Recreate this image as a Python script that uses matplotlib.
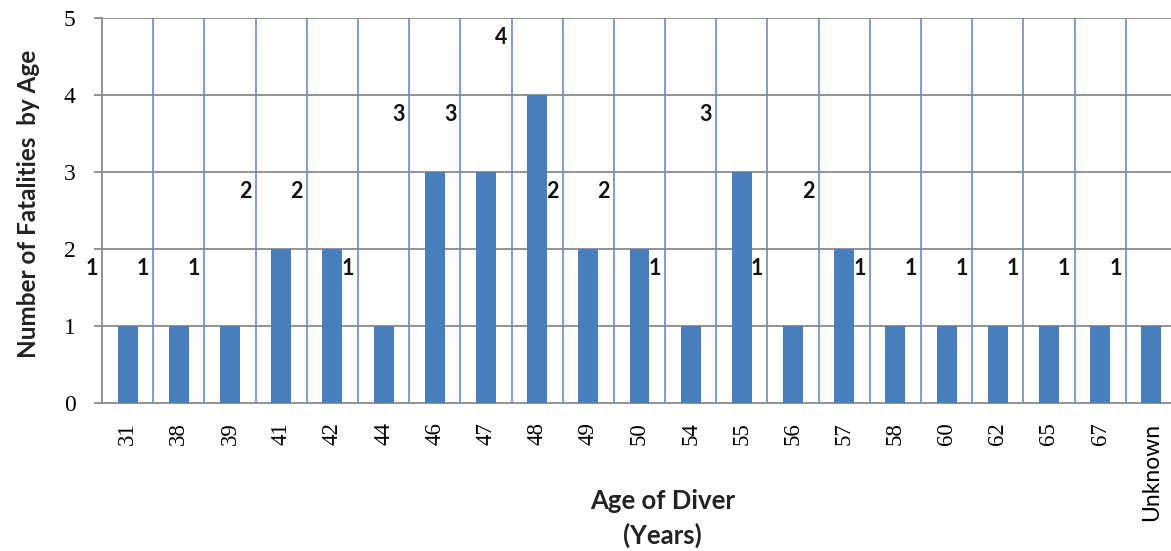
import matplotlib
matplotlib.use("Agg")
import matplotlib.pyplot as plt
import numpy as np

# fatalities per diver age
ages = ["31", "38", "39", "41", "42", "44", "46", "47", "48", "49", "50",
        "54", "55", "56", "57", "58", "60", "62", "65", "67", "Unknown"]
deaths = [1, 1, 1, 2, 2, 1, 3, 3, 4, 2, 2, 1, 3, 1, 2, 1, 1, 1, 1, 1, 1]

bar_col = "#4a7ebb"
vgrid_col = "#6c8cc0"
hgrid_col = "#8a8a8a"

fig = plt.figure(figsize=(11.71, 5.51), dpi=100)
# plot area runs past the right edge of the picture, as in the original
ax = fig.add_axes([0.0871, 0.2686, 0.918, 0.6987])

x = np.arange(len(ages))
ax.bar(x, deaths, width=0.39, color=bar_col, zorder=3)

ax.set_xlim(-0.5, len(ages) - 0.5)
ax.set_ylim(0, 5)
ax.set_yticks(range(6))

# gridlines: gray horizontal, blue vertical between categories
for v in range(1, 6):
    ax.axhline(v, color=hgrid_col, lw=1.3, zorder=1)
for b in x[:-1] + 0.5:
    ax.axvline(b, color=vgrid_col, lw=1.2, zorder=1)

for s in ["top", "right"]:
    ax.spines[s].set_visible(False)
ax.spines["left"].set_color(hgrid_col)
ax.spines["bottom"].set_color(hgrid_col)
ax.spines["left"].set_linewidth(1.3)
ax.spines["bottom"].set_linewidth(1.3)

ax.tick_params(axis="y", length=6, width=1.3, color=hgrid_col, pad=13,
               labelsize=17)
for t in ax.get_yticklabels():
    t.set_family("Liberation Serif")

ax.set_xticks(x)
ax.set_xticklabels(ages, rotation=90, va="top", ha="center")
ax.tick_params(axis="x", length=0, pad=14, labelsize=16.5)
for t in ax.get_xticklabels():
    if t.get_text() == "Unknown":
        t.set_family("Lato")
    else:
        t.set_family("Liberation Serif")

# data labels sit offset up-left of each bar in the source image
for i, v in zip(x, deaths):
    ax.text(i - 0.7, v + 0.75, str(v), ha="center", va="center",
            fontsize=15.5, fontweight="bold", family="Lato", color="#111111",
            zorder=4)

fig.text(0.024, 0.63, "Number of Fatalities  by Age", rotation=90,
         ha="center", va="center", fontsize=17.5, fontweight="bold",
         family="Lato", color="#222222")
fig.text(0.566, 0.059, "Age of Diver\n(Years)", ha="center", va="center",
         fontsize=18.5, fontweight="bold", family="Lato", color="#222222",
         linespacing=1.45)

fig.savefig("out.png", dpi=100)
